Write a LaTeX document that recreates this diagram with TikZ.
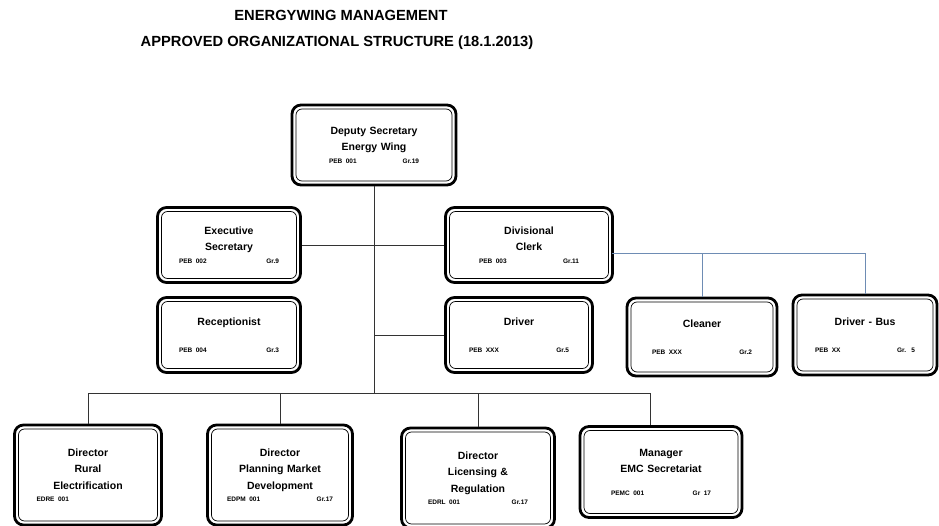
\documentclass[tikz,border=0pt]{standalone}
\usepackage{fontspec}
\setmainfont{Liberation Sans}
\definecolor{linkblue}{RGB}{110,140,180}
\newcommand{\gradeline}[2]{\makebox[\linewidth]{\fontsize{6.5}{7}\selectfont #1\hfill #2}}
\tikzset{
  post/.style={draw=black, line width=2.8pt, rounded corners=9pt, align=center,
    text width=100pt, font=\bfseries\fontsize{10.5}{16.5}\selectfont,
    path picture={\draw[line width=0.7pt, rounded corners=6pt]
      ([shift={(4pt,4pt)}]path picture bounding box.south west) rectangle
      ([shift={(-4pt,-4pt)}]path picture bounding box.north east);}},
  link/.style={draw=black!80, line width=0.9pt},
  bluelink/.style={draw=linkblue, line width=0.9pt},
  heading/.style={font=\bfseries\fontsize{14.7}{16}\selectfont}
}
\begin{document}
\begin{tikzpicture}[x=1pt,y=-1pt]
      \useasboundingbox (0,0) rectangle (939,526);
      \node[heading] (title) at (341,15) {ENERGYWING MANAGEMENT};
      \node[heading] (subtitle) at (337,43) {APPROVED ORGANIZATIONAL STRUCTURE (18.1.2013)};
      \draw
        (374,145) node[post, minimum width=164, minimum height=80, text width=90pt] (dep)
          {Deputy Secretary\\Energy Wing\\[-4pt]\gradeline{PEB 001}{Gr.19}}
        (229,245) node[post, minimum width=143, minimum height=75] (exec)
          {Executive\\Secretary\\[-4pt]\gradeline{PEB 002}{Gr.9}}
        (529,245) node[post, minimum width=167, minimum height=75] (div)
          {Divisional\\Clerk\\[-4pt]\gradeline{PEB 003}{Gr.11}}
        (229,335) node[post, minimum width=143, minimum height=75] (rec)
          {Receptionist\\[10pt]\gradeline{PEB 004}{Gr.3}}
        (519,335) node[post, minimum width=147, minimum height=75] (drv)
          {Driver\\[10pt]\gradeline{PEB XXX}{Gr.5}}
        (702,337) node[post, minimum width=150, minimum height=78] (clean)
          {Cleaner\\[10pt]\gradeline{PEB XXX}{Gr.2}}
        (865,335) node[post, minimum width=144, minimum height=80] (busdrv)
          {Driver - Bus\\[10pt]\gradeline{PEB XX}{Gr. 5}}
        (88,475) node[post, minimum width=147, minimum height=100, text width=103pt] (rural)
          {Director\\Rural\\Electrification\\[-4pt]\gradeline{EDRE 001}{}}
        (280,475) node[post, minimum width=145, minimum height=100, text width=106pt] (plan)
          {Director\\Planning Market\\Development\\[-4pt]\gradeline{EDPM 001}{Gr.17}}
        (478,478) node[post, minimum width=153, minimum height=100] (lic)
          {Director\\Licensing \&\\Regulation\\[-4pt]\gradeline{EDRL 001}{Gr.17}}
        (661,472) node[post, minimum width=162, minimum height=91] (mgr)
          {Manager\\EMC Secretariat\\[6pt]\gradeline{PEMC 001}{Gr 17}};
      \coordinate (bus) at (374,393);
      \coordinate (fork) at (612,253);
      \begin{scope}[link]
        \draw (dep) -- (bus);
        \draw (exec) -- (div);
        \draw (drv.west -| bus) -- (drv);
        \draw (rural) |- (bus);
        \draw (bus) -| ([xshift=-11pt]mgr.north);
        \draw (plan) -- (plan.north |- bus);
        \draw (lic) -- (lic.north |- bus);
      \end{scope}
      \begin{scope}[bluelink]
        \draw (fork) -| (busdrv);
        \draw (clean) -- (clean.north |- fork);
      \end{scope}
    \end{tikzpicture}
\end{document}
